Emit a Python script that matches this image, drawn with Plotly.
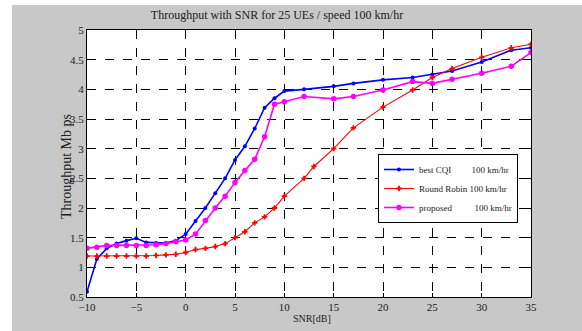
import plotly.graph_objects as go

# Data
snr_blue = [-10, -9, -8, -7, -6, -5, -4, -3, -2, -1, 0, 1, 2, 3, 4, 5, 6, 7, 8, 9, 10,
            12, 15, 17, 20, 23, 25, 27, 30, 33, 35]
best_cqi = [0.59, 1.14, 1.32, 1.40, 1.45, 1.49, 1.42, 1.41, 1.41, 1.45, 1.56, 1.78, 2.00,
            2.25, 2.50, 2.81, 3.04, 3.34, 3.69, 3.85, 3.97, 4.00, 4.05, 4.10, 4.16, 4.20,
            4.25, 4.31, 4.46, 4.66, 4.70]

snr_red = [-10, -9, -8, -7, -6, -5, -4, -3, -2, -1, 0, 1, 2, 3, 4, 5, 6, 7, 8, 9, 10,
           12, 13, 15, 17, 20, 23, 25, 27, 30, 33, 35]
round_robin = [1.19, 1.19, 1.19, 1.19, 1.19, 1.19, 1.19, 1.20, 1.21, 1.22, 1.25, 1.30,
               1.32, 1.35, 1.40, 1.50, 1.60, 1.75, 1.85, 2.00, 2.20, 2.50, 2.70, 3.00,
               3.35, 3.70, 3.99, 4.20, 4.35, 4.54, 4.70, 4.76]

snr_mag = [-10, -9, -8, -7, -6, -5, -4, -3, -2, -1, 0, 1, 2, 3, 4, 5, 6, 7, 8, 9, 10,
           12, 15, 17, 20, 23, 25, 27, 30, 33, 35]
proposed = [1.32, 1.34, 1.37, 1.37, 1.37, 1.37, 1.37, 1.38, 1.40, 1.43, 1.46, 1.56, 1.79,
            2.00, 2.20, 2.43, 2.63, 2.82, 3.20, 3.75, 3.79, 3.88, 3.84, 3.88, 3.99, 4.13,
            4.10, 4.17, 4.27, 4.39, 4.62]

x_ticks = [-10, -5, 0, 5, 10, 15, 20, 25, 30, 35]
y_ticks = [0.5, 1, 1.5, 2, 2.5, 3, 3.5, 4, 4.5, 5]
y_tick_labels = ["0.5", "1", "1.5", "2", "2.5", "3", "3.5", "4", "4.5", "5"]

NB = "\u00a0"
names = ["best CQI" + NB * 9 + "100 km/hr",
         "Round Robin 100 km/hr",
         "proposed" + NB * 10 + "100 km/hr"]

SERIF = "Liberation Serif"

fig = go.Figure()
fig.add_trace(go.Scatter(x=snr_blue, y=best_cqi, mode="lines+markers", name=names[0],
                         line=dict(color="#0000FF", width=1.6),
                         marker=dict(symbol="circle", size=4, color="#0000FF")))
fig.add_trace(go.Scatter(x=snr_red, y=round_robin, mode="lines+markers", name=names[1],
                         line=dict(color="#FF0000", width=1.1),
                         marker=dict(symbol="cross", size=4.5, color="#FF0000")))
fig.add_trace(go.Scatter(x=snr_mag, y=proposed, mode="lines+markers", name=names[2],
                         line=dict(color="#FF00FF", width=1.6),
                         marker=dict(symbol="circle", size=5.5, color="#FF00FF")))

W, H = 582, 331
L, R, T, B = 87, 531, 30, 297
pw, ph = R - L, B - T

def px(xp):
    return (xp - L) / pw

def py(yp):
    return (B - yp) / ph

axis_common = dict(showline=True, linecolor="black", linewidth=1, mirror="ticks",
                   ticks="inside", ticklen=4, tickcolor="black",
                   showgrid=True, gridcolor="black", griddash="dash", gridwidth=1,
                   zeroline=False, tickfont=dict(family=SERIF, size=11, color="#222"))

fig.update_layout(
    width=W, height=H,
    margin=dict(l=L, r=W - R, t=T, b=H - B),
    paper_bgcolor="#C8C8C8",
    plot_bgcolor="white",
    showlegend=True,
    legend=dict(x=px(378), y=py(154), xanchor="left", yanchor="top",
                bgcolor="white", bordercolor="black", borderwidth=1,
                font=dict(family=SERIF, size=9, color="#222"),
                tracegroupgap=0, itemwidth=30),
    title=dict(text="Throughput with SNR for 25 UEs / speed 100 km/hr",
               x=277 / W, xanchor="center", y=1 - 15 / H, yanchor="middle",
               font=dict(family=SERIF, size=12, color="#222")),
    xaxis=dict(range=[-10, 35], tickvals=x_ticks, **axis_common),
    yaxis=dict(range=[0.5, 5], tickvals=y_ticks, ticktext=y_tick_labels, **axis_common),
    shapes=[
        dict(type="rect", xref="paper", yref="paper", x0=px(-2), x1=px(12),
             y0=py(H + 2), y1=py(-2), fillcolor="white", line=dict(width=0), layer="below"),
        dict(type="rect", xref="paper", yref="paper", x0=px(-2), x1=px(W + 2),
             y0=py(5), y1=py(-2), fillcolor="white", line=dict(width=0), layer="below"),
    ],
    annotations=[
        dict(text="Throughput Mb ps", xref="paper", yref="paper", x=px(67), y=py(167),
             textangle=-90, showarrow=False, xanchor="center", yanchor="middle",
             font=dict(family=SERIF, size=14, color="#222")),
        dict(text="SNR[dB]", xref="paper", yref="paper", x=px(312), y=py(318),
             showarrow=False, xanchor="center", yanchor="middle",
             font=dict(family=SERIF, size=10, color="#222")),
    ],
)

fig.write_html("out.html")
